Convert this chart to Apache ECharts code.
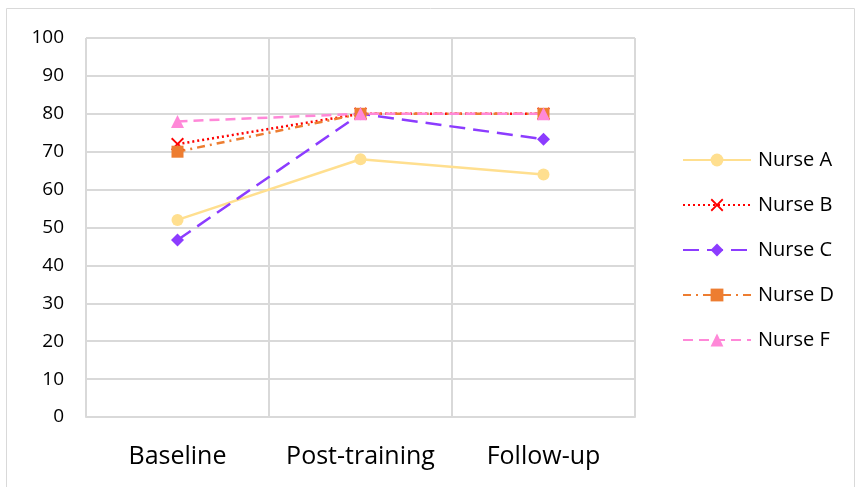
<!DOCTYPE html>
<html>
<head>
<meta charset="utf-8">
<script src="https://cdn.jsdelivr.net/npm/echarts@6/dist/echarts.min.js"></script>
<style>
  html, body { margin: 0; padding: 0; background: #fff; }
  #main { width: 861px; height: 487px; }
</style>
</head>
<body>
<div id="main"></div>
<script>
// categories and values
const stages = ['Baseline', 'Post-training', 'Follow-up'];
const nurseA = [52, 68, 64];
const nurseB = [72, 80, 80];
const nurseC = [46.7, 80, 73.3];
const nurseD = [70, 80, 80];
const nurseF = [78, 80, 80];

const crossPath = 'path://M0,1 L1,0 L5,4 L9,0 L10,1 L6,5 L10,9 L9,10 L5,6 L1,10 L0,9 L4,5 Z';

function lineSeries(name, data, color, type, symbol, size) {
  return {
    name: name,
    type: 'line',
    data: data,
    symbol: symbol,
    symbolSize: size,
    showSymbol: true,
    lineStyle: { color: color, width: 2.5, type: type },
    itemStyle: { color: color, borderWidth: 0 },
    emphasis: { disabled: true },
    z: 3
  };
}

const chart = echarts.init(document.getElementById('main'));
chart.setOption({
  animation: false,
  graphic: [{
    type: 'rect',
    shape: { x: 6.5, y: 8.5, width: 848, height: 490 },
    style: { fill: 'none', stroke: '#d9d9d9', lineWidth: 1 },
    silent: true
  }],
  grid: { left: 86, right: 226, top: 38, bottom: 70 },
  legend: {
    orient: 'vertical',
    left: 677,
    top: 145,
    itemWidth: 68,
    itemHeight: 16,
    itemGap: 25,
    textStyle: { fontFamily: 'Open Sans', fontSize: 20, color: '#000', padding: [0, 0, 0, 2] },
    data: ['Nurse A', 'Nurse B', 'Nurse C', 'Nurse D', 'Nurse F']
  },
  xAxis: {
    type: 'category',
    data: stages,
    boundaryGap: true,
    axisLine: { lineStyle: { color: '#d9d9d9', width: 2 } },
    axisTick: { show: false },
    splitLine: { show: true, interval: 0, lineStyle: { color: '#d9d9d9', width: 2 } },
    axisLabel: { interval: 0, hideOverlap: false, fontFamily: 'Open Sans', fontSize: 25, color: '#000', margin: 27 }
  },
  yAxis: {
    type: 'value',
    min: 0,
    max: 100,
    interval: 10,
    axisLine: { show: false },
    axisTick: { show: false },
    splitLine: { lineStyle: { color: '#d9d9d9', width: 2 } },
    axisLabel: { fontFamily: 'Open Sans', fontSize: 19, color: '#000', margin: 22 }
  },
  series: [
    lineSeries('Nurse A', nurseA, '#ffdf8f', 'solid', 'circle', 12),
    lineSeries('Nurse B', nurseB, '#ff0000', [2, 3], crossPath, 13),
    lineSeries('Nurse C', nurseC, '#8c3cff', [16, 8], 'diamond', 13),
    lineSeries('Nurse D', nurseD, '#ed7d31', [8, 5, 2, 5], 'rect', 12),
    lineSeries('Nurse F', nurseF, '#ff88d8', [10, 6], 'triangle', 13)
  ]
});
</script>
</body>
</html>
